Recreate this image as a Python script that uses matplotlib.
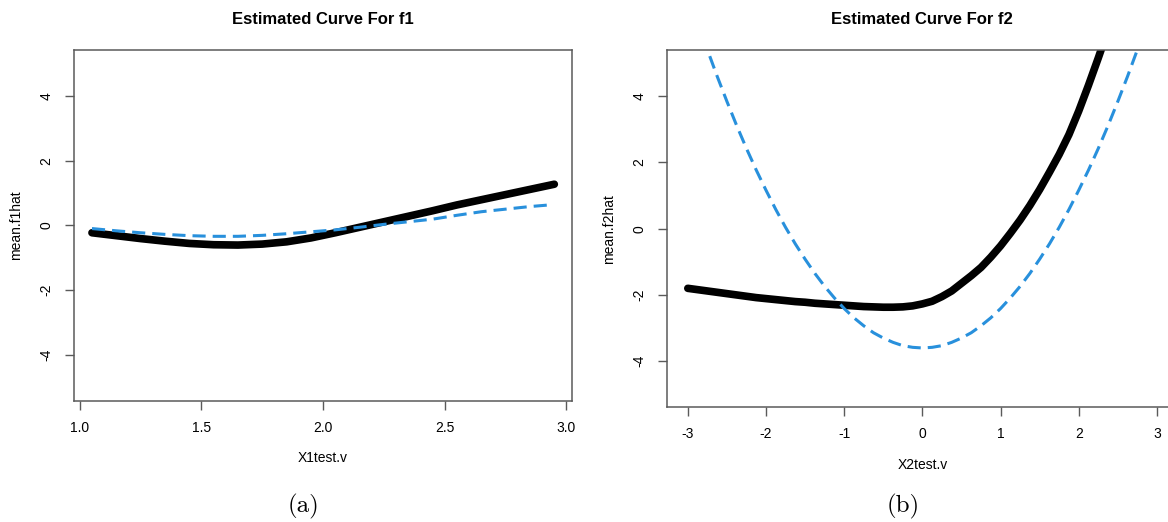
import matplotlib
matplotlib.use('Agg')
from matplotlib import pyplot as plt

# panel (a): f1
x1 = [1.05, 1.15, 1.25, 1.35, 1.45, 1.55, 1.65, 1.75, 1.85, 1.95,
      2.05, 2.15, 2.25, 2.35, 2.45, 2.55, 2.65, 2.75, 2.85, 2.95]
f1_est = [-0.23, -0.32, -0.41, -0.49, -0.56, -0.60, -0.61, -0.58, -0.51, -0.39,
          -0.23, -0.06, 0.11, 0.28, 0.45, 0.63, 0.79, 0.95, 1.11, 1.27]
x1_true = [1.05, 1.15, 1.25, 1.35, 1.45, 1.55, 1.65, 1.75, 1.85, 1.95,
           2.05, 2.15, 2.25, 2.35, 2.45, 2.55, 2.65, 2.75, 2.85, 2.93]
f1_true = [-0.10, -0.17, -0.23, -0.28, -0.32, -0.34, -0.34, -0.31, -0.26, -0.20,
           -0.14, -0.06, 0.03, 0.11, 0.19, 0.31, 0.42, 0.50, 0.58, 0.63]

# panel (b): f2
x2 = [-3.0, -2.875, -2.75, -2.625, -2.5, -2.375, -2.25, -2.125, -2.0, -1.875,
      -1.75, -1.625, -1.5, -1.375, -1.25, -1.125, -1.0, -0.875, -0.75, -0.625,
      -0.5, -0.375, -0.25, -0.125, 0.0, 0.125, 0.25, 0.375, 0.5, 0.625,
      0.75, 0.875, 1.0, 1.125, 1.25, 1.375, 1.5, 1.625, 1.75, 1.875,
      2.0, 2.125, 2.25, 2.375, 2.5, 2.625, 2.75, 2.875, 3.0]
f2_est = [-1.80, -1.84, -1.88, -1.92, -1.96, -2.00, -2.04, -2.08, -2.11, -2.14,
          -2.17, -2.20, -2.22, -2.25, -2.27, -2.29, -2.31, -2.33, -2.35, -2.36,
          -2.37, -2.37, -2.36, -2.33, -2.27, -2.19, -2.05, -1.88, -1.65, -1.42,
          -1.17, -0.86, -0.52, -0.14, 0.26, 0.70, 1.18, 1.70, 2.24, 2.84,
          3.55, 4.33, 5.15, 6.00, 6.88, 7.78, 8.70, 9.65, 10.6]
f2_true = [7.11, 6.24, 5.40, 4.60, 3.84, 3.11, 2.42, 1.77, 1.16, 0.58,
           0.04, -0.46, -0.92, -1.35, -1.74, -2.09, -2.41, -2.69, -2.93, -3.14,
           -3.30, -3.43, -3.53, -3.58, -3.60, -3.58, -3.53, -3.43, -3.30, -3.14,
           -2.93, -2.69, -2.41, -2.09, -1.74, -1.35, -0.92, -0.46, 0.04, 0.58,
           1.16, 1.77, 2.42, 3.11, 3.84, 4.60, 5.40, 6.24, 7.11]

x1_ticks = [1.0, 1.5, 2.0, 2.5, 3.0]
x2_ticks = [-3, -2, -1, 0, 1, 2, 3]
y_ticks = [-4, -2, 0, 2, 4]

blue = '#2890dc'
gray = '#5a5a5a'

plt.rcParams['font.family'] = ['Liberation Sans', 'DejaVu Sans']
plt.rcParams['axes.unicode_minus'] = False

fig = plt.figure(figsize=(11.68, 5.22), dpi=100)
ax1 = fig.add_axes([0.0631, 0.2324, 0.4269, 0.6713])
ax2 = fig.add_axes([0.5708, 0.2197, 0.4378, 0.6845])


def style(ax, xt, xlab, ylab, title):
    for s in ax.spines.values():
        s.set_color(gray)
        s.set_linewidth(1.1)
    ax.set_xticks(xt)
    ax.set_yticks(y_ticks)
    ax.set_xticklabels([f'{t:g}' if isinstance(t, int) else f'{t:.1f}' for t in xt])
    ax.set_yticklabels([str(t) for t in y_ticks])
    ax.tick_params(length=6.5, width=1, color=gray, labelsize=10, pad=8)
    ax.tick_params(axis='y', labelrotation=90)
    for lab in ax.get_yticklabels():
        lab.set_va('center')
    ax.set_xlabel(xlab, fontsize=10, labelpad=11.6)
    ax.set_ylabel(ylab, fontsize=10, labelpad=12)
    ax.set_title(title, fontsize=12, fontweight='bold', pad=19)


ax1.plot(x1, f1_est, color='black', lw=5.5, solid_capstyle='round', solid_joinstyle='round')
ax1.plot(x1_true, f1_true, color=blue, lw=2.2, dashes=(4.3, 2.3))
ax1.set_xlim(0.975, 3.024)
ax1.set_ylim(-5.42, 5.41)
style(ax1, x1_ticks, 'X1test.v', 'mean.f1hat', 'Estimated Curve For f1')

ax2.plot(x2, f2_est, color='black', lw=5.5, solid_capstyle='round', solid_joinstyle='round')
ax2.plot(x2, f2_true, color=blue, lw=2.2, dashes=(4.3, 2.3))
ax2.set_xlim(-3.27, 3.27)
ax2.set_ylim(-5.39, 5.39)
style(ax2, x2_ticks, 'X2test.v', 'mean.f2hat', 'Estimated Curve For f2')

fig.text(303 / 1168, 1 - 506 / 522, '(a)', fontsize=18, family='cmr10', ha='center', va='center')
fig.text(903 / 1168, 1 - 506 / 522, '(b)', fontsize=18, family='cmr10', ha='center', va='center')

fig.savefig('out.png', dpi=100)
